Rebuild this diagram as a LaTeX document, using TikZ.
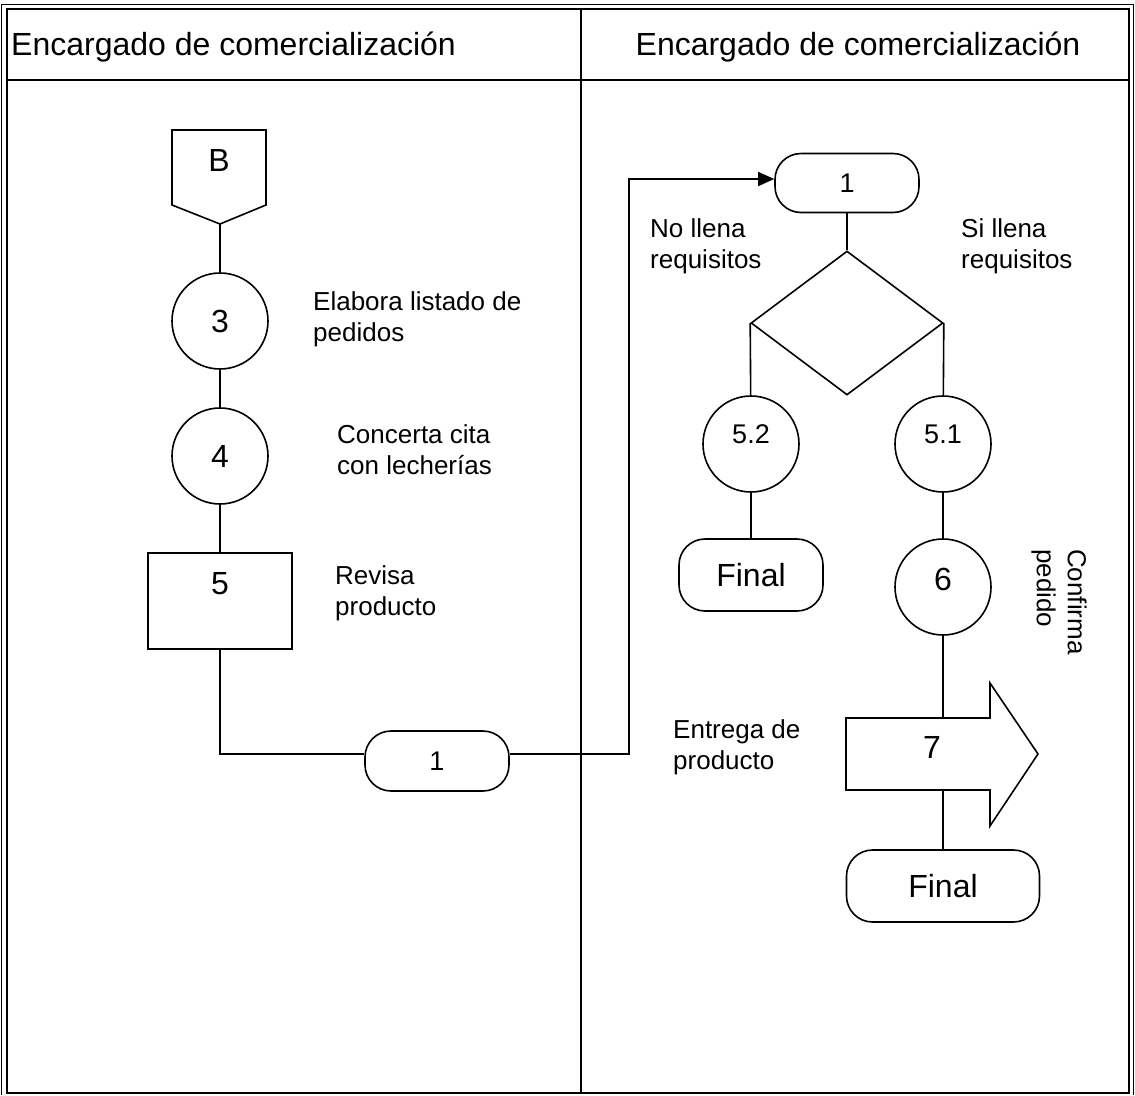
\documentclass[tikz,border=0pt]{standalone}
\usepackage{fontspec}
\setmainfont{Liberation Sans}
\usetikzlibrary{shapes.geometric, arrows.meta}
\tikzset{
  flow line/.style={line width=1.6pt},
  circ node/.style={draw, line width=1.6pt, circle, minimum size=96pt, inner sep=0pt},
  box node/.style={draw, line width=1.6pt, minimum width=144pt, minimum height=96pt, inner sep=0pt},
  term node/.style={draw, line width=1.6pt, rounded corners=26pt, inner sep=0pt},
  dec node/.style={draw, line width=1.6pt, diamond, minimum width=192pt, minimum height=144pt, inner sep=0pt},
  head/.style={inner sep=0pt, font=\fontsize{32}{36}\selectfont},
  num/.style={font=\fontsize{32}{36}\selectfont},
  small num/.style={font=\fontsize{27}{30}\selectfont},
  fin/.style={font=\fontsize{32}{36}\selectfont},
  note/.style={align=left, inner sep=0pt, anchor=north west, font=\fontsize{26}{31}\selectfont},
}
\begin{document}
\begin{tikzpicture}[x=1pt, y=-1pt]
  \useasboundingbox (0,0) rectangle (1135,1095);
  % frame and lanes
  \draw[line width=1pt] (1.5,1095) -- (1.5,4) -- (1133.5,4) -- (1133.5,1095);
  \draw[line width=2.4pt] (7,9) rectangle (1129,1093);
  \draw[line width=2.4pt] (7,80) -- (1129,80);
  \draw[line width=2.4pt] (581,9) -- (581,1093);
  \node[head, anchor=west] (hleft) at (11,47) {Encargado de comercialización};
  \node[head] (hright) at (858,47) {Encargado de comercialización};

  % left lane
  \draw[flow line] (172,130) -- (266,130) -- (266,205) -- (220,224) -- (172,205) -- cycle;
  \node[num] (b) at (219,160) {B};
  \coordinate (btip) at (220,224);
  \node[circ node, num] (p3) at (220,321) {3};
  \node[circ node, num] (p4) at (220,456) {4};
  \node[box node, label={[num, yshift=17pt]center:5}] (p5) at (220,601) {};
  \node[term node, small num, minimum width=144pt, minimum height=60pt] (c1) at (437,761) {1};
  \coordinate (bend1) at (220,754);

  \draw[flow line] (btip) -- (p3) -- (p4) -- (p5);
  \draw[flow line] (p5) -- (bend1) -- (bend1 -| c1.west);

  \node[note] (n3) at (313,291) {Elabora listado de\\pedidos};
  \node[note] (n4) at (337,424) {Concerta cita\\con lecherías};
  \node[note] (n5) at (335,565) {Revisa\\producto};

  % right lane
  \node[term node, small num, minimum width=144pt, minimum height=59pt] (c2) at (847,183) {1};
  \coordinate (bend2) at (629,754);
  \coordinate (bend3) at (629,179);
  \draw[flow line, -{Triangle[length=16pt, width=14pt]}] (c1.east |- bend1) -- (bend2) -- (bend3) -- (bend3 -| c2.west);

  \node[dec node] (d1) at (847,323) {};
  \node[circ node, label={[small num, yshift=10pt]center:5.2}] (p52) at (751,444) {};
  \node[circ node, label={[small num, yshift=10pt]center:5.1}] (p51) at (943,444) {};
  \node[term node, fin, minimum width=144pt, minimum height=72pt] (f1) at (751,575) {Final};
  \node[circ node, label={[num, yshift=8pt]center:6}] (p6) at (943,587) {};

  \draw[flow line] (c2) -- (d1);
  \draw[flow line] (d1.west) -- (p52) -- (f1);
  \draw[flow line] (d1.east) -- (p51) -- (p6);

  % block arrow 7
  \draw[flow line] (846,718) -- (990,718) -- (990,683) -- (1038,754) -- (990,826) -- (990,790) -- (846,790) -- cycle;
  \node[num] (t7) at (932,747) {7};
  \coordinate (a7top) at (943,718);
  \coordinate (a7bot) at (943,790);
  \node[term node, fin, minimum width=193pt, minimum height=72pt] (f2) at (943,886) {Final};
  \draw[flow line] (p6) -- (a7top);
  \draw[flow line] (a7bot) -- (f2);

  \node[note] (nno) at (650,218) {No llena\\requisitos};
  \node[note] (nsi) at (961,218) {Si llena\\requisitos};
  \node[note] (n7) at (673,719) {Entrega de\\producto};
  \node[note, rotate=-90] (n6) at (1087,549) {Confirma\\pedido};
\end{tikzpicture}
\end{document}
